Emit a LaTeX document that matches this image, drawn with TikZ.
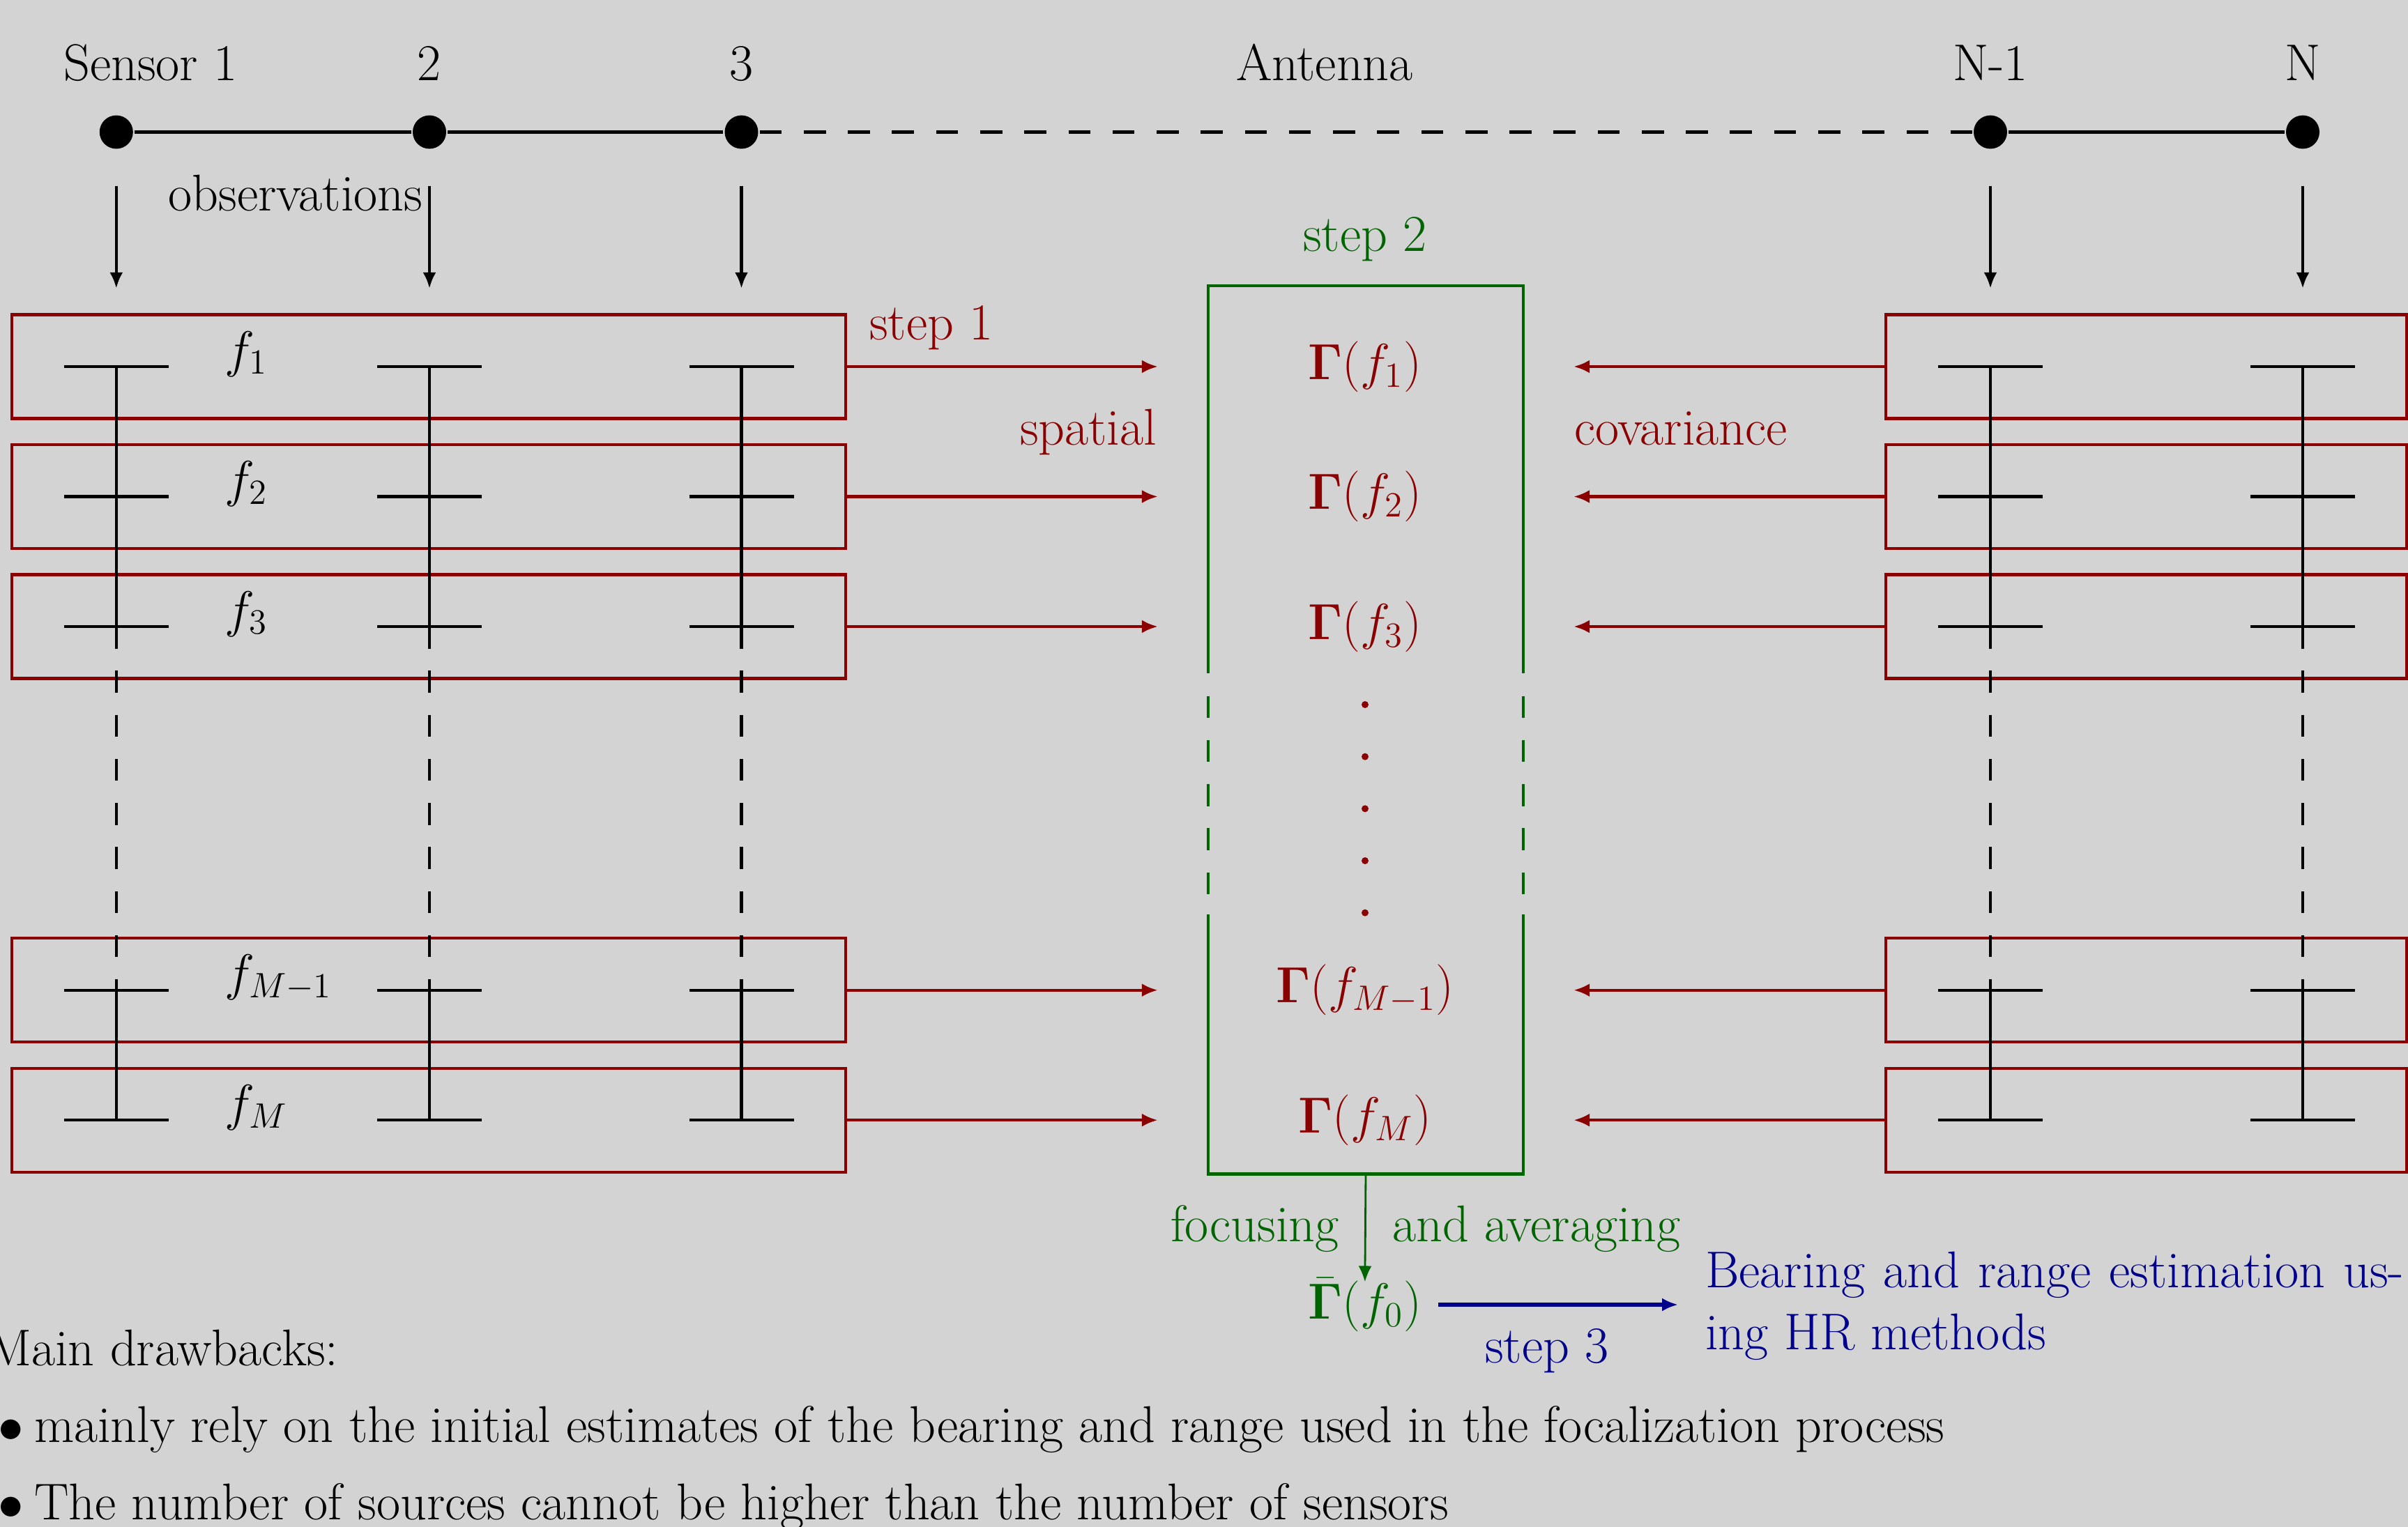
\documentclass[tikz,border=0pt]{standalone}
\usepackage{amsmath}
\usepackage{amssymb}
\usetikzlibrary{arrows.meta}
\definecolor{slidegray}{RGB}{211,211,211}
\definecolor{covred}{RGB}{139,0,0}
\definecolor{focgreen}{RGB}{0,100,0}
\definecolor{hrblue}{RGB}{0,0,139}

\begin{document}
\begin{tikzpicture}[x=1cm, y=-1cm, font=\fontsize{21.1}{25.4}\selectfont, line width=1.25pt,
    >={Latex[length=6.5pt,width=5.4pt]}]
  \tikzset{sensordot/.style={circle,fill,inner sep=0pt,minimum size=0.48cm},
    freqband/.style={draw=covred,inner sep=0pt,minimum height=1.49cm},
    longdash/.style={dash pattern=on 9pt off 9pt},
    lab/.style={anchor=base,inner sep=0pt}}
  \useasboundingbox (0,0) rectangle (34.54,21.91);
  \fill[slidegray] (0,0) rectangle (34.54,21.91);
  \clip (0,0) rectangle (34.54,21.91);
  % antenna
  \foreach \s/\x in {1/1.668,2/6.16,3/10.635,4/28.55,5/33.03}
    \node[sensordot] (s\s) at (\x,1.895) {};
  \draw (s1) -- (s2) -- (s3);
  \draw[longdash] (s3) -- (s4);
  \draw (s4) -- (s5);
  \node[lab] (name1) at (2.16,1.16) {Sensor 1};
  \node[lab] (name2) at (6.16,1.16) {2};
  \node[lab] (name3) at (10.64,1.16) {3};
  \node[lab] (antenna) at (19.0,1.16) {Antenna};
  \node[lab] (name4) at (28.55,1.16) {N-1};
  \node[lab] (name5) at (33.03,1.16) {N};
  \node[lab] (obs) at (4.24,3.03) {observations};
  % step 2 box
  \node[minimum width=4.48cm,minimum height=12.697cm,inner sep=0pt] (gbox) at (19.59,10.4735) {};
  \draw[focgreen] (gbox.north west) ++(0,5.558) -- (gbox.north west) -- (gbox.north east) -- ++(0,5.558);
  \draw[focgreen] (gbox.south west) ++(0,-3.722) -- (gbox.south west) -- (gbox.south east) -- ++(0,-3.722);
  \draw[focgreen,longdash] (gbox.north west) ++(0,5.882) -- ++(0,2.876);
  \draw[focgreen,longdash] (gbox.north east) ++(0,5.882) -- ++(0,2.876);
  \node[lab,text=focgreen] (step2) at (19.58,3.61) {step 2};
  % frequency bins
  \foreach \r/\y/\lbl in {1/5.26/f_1,2/7.125/f_2,3/8.99/f_3,4/14.207/f_{M-1},5/16.072/f_M} {
    \node[freqband,minimum width=11.96cm] (L\r) at (6.15,\y) {};
    \node[freqband,minimum width=7.47cm] (R\r) at (30.785,\y) {};
    \node[anchor=base west,inner sep=0pt] (f\r) at (3.2,\y) {$\lbl$};
    \node[text=covred] (g\r) at (19.58,\y) {$\mathbf{\Gamma}(\lbl)$};
    \draw[->,covred,shorten >=0.72cm] (L\r.east) -- (L\r.east -| gbox.west);
    \draw[->,covred,shorten >=0.72cm] (R\r.west) -- (R\r.west -| gbox.east);
  }
  \foreach \s in {1,...,5} {
    \foreach \r in {1,...,5}
      \draw (s\s |- L\r) ++(-0.75,0) -- ++(1.5,0);
    \draw (s\s |- L1) -- (s\s |- L3);
    \draw[longdash] (s\s |- L3) -- (s\s |- L4);
    \draw (s\s |- L4) -- (s\s |- L5);
    \draw[->,shorten <=0.51cm,shorten >=0.355cm] (s\s) -- (s\s |- L1.north);
  }
  \foreach \d in {0,...,4}
    \fill[covred] (19.58,10.11+0.7467*\d) circle (0.05cm);
  \node[lab,text=covred] (step1) at (13.36,4.87) {step 1};
  \node[lab,text=covred] (spatial) at (15.61,6.38) {spatial};
  \node[lab,text=covred] (covar) at (24.11,6.38) {covariance};
  % step 3
  \node[text=focgreen] (gbar) at (19.58,18.72) {$\bar{\mathbf{\Gamma}}(f_0)$};
  \draw[->,focgreen,line width=0.8pt,shorten >=-0.2cm] (gbox.south) -- (gbar.north);
  \node[lab,text=focgreen] (focusing) at (18.0,17.81) {focusing};
  \node[lab,text=focgreen] (averaging) at (22.04,17.81) {and averaging};
  \node[anchor=north west,inner sep=0pt,text width=10.02cm,align=justify,text=hrblue] (hr) at (24.44,17.94)
    {Bearing and range estimation us-\linebreak ing HR methods};
  \draw[->,hrblue,line width=1.8pt,shorten <=0.1cm,shorten >=0.37cm] (gbar.east) -- (gbar.east -| hr.west);
  \node[lab,text=hrblue] (step3) at (22.19,19.55) {step 3};
  % drawbacks
  \node[anchor=base west,inner sep=0pt] (drawbacks) at (-0.2,19.59) {Main drawbacks:};
  \node[anchor=base west,inner sep=0pt] (item1) at (-0.05,20.69)
    {$\bullet$\hspace{-0.07cm} mainly rely on the initial estimates of the bearing and range used in the focalization process};
  \node[anchor=base west,inner sep=0pt] (item2) at (-0.05,21.80)
    {$\bullet$\hspace{-0.07cm} The number of sources cannot be higher than the number of sensors};
\end{tikzpicture}
\end{document}
